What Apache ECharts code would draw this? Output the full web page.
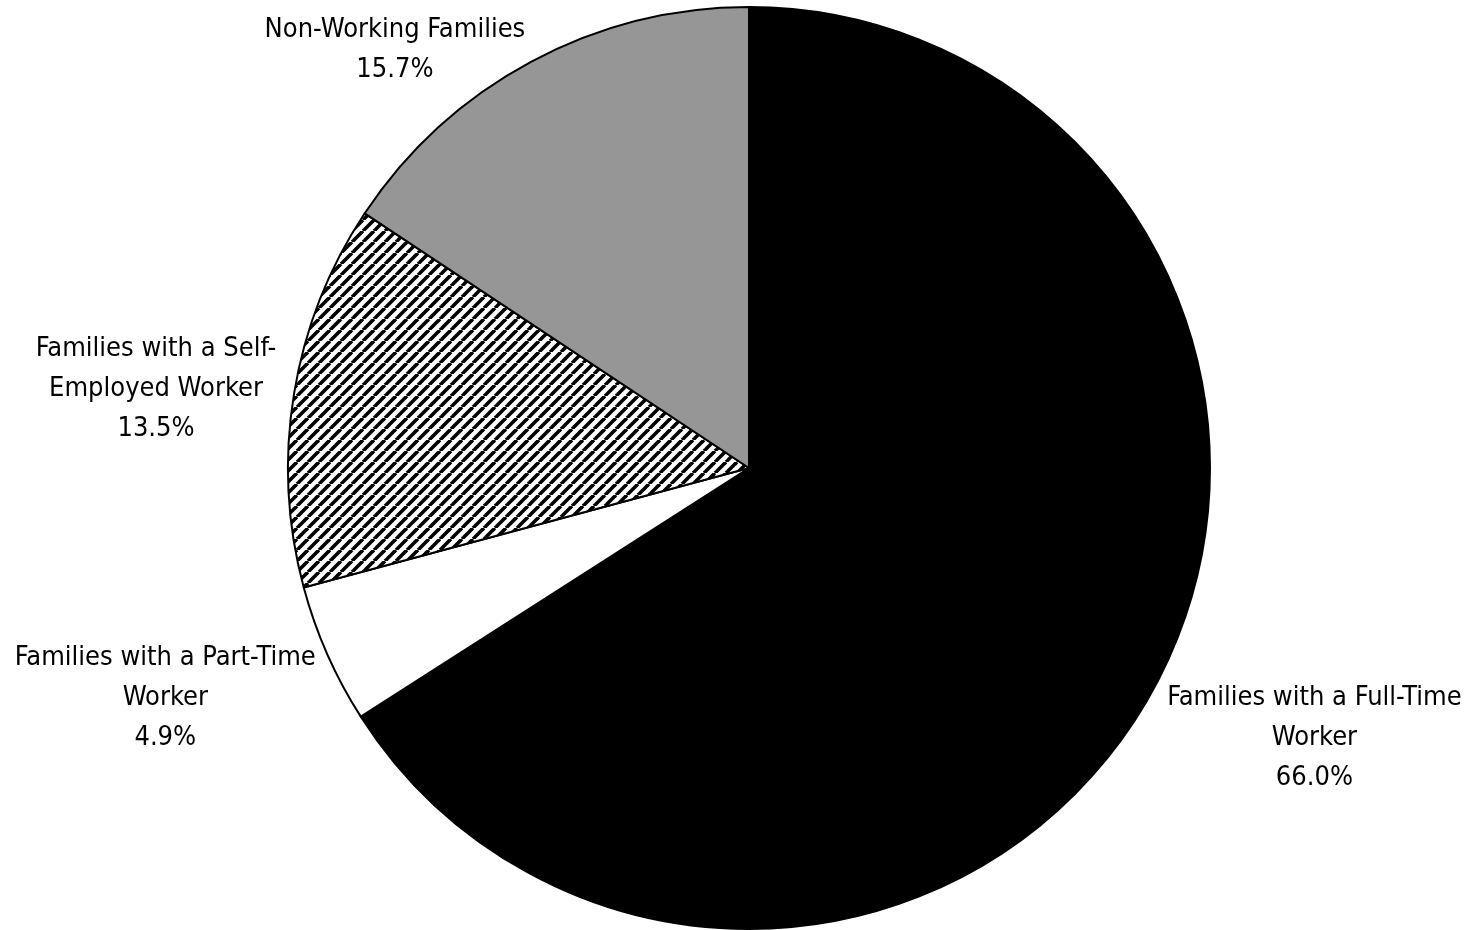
<!DOCTYPE html>
<html>
<head>
<meta charset="utf-8">
<style>
  html, body { margin: 0; padding: 0; background: #fff; }
  #chart { width: 1471px; height: 930px; }
</style>
<script src="https://cdn.jsdelivr.net/npm/echarts@6/dist/echarts.min.js"></script>
</head>
<body>
<div id="chart"></div>
<script>
// Family work status shares (percent)
const categories = [
  'Families with a Full-Time\nWorker',
  'Families with a Part-Time\nWorker',
  'Families with a Self-\nEmployed Worker',
  'Non-Working Families'
];
const shares = [66.0, 4.9, 13.5, 15.7];

// Label block placement relative to the slice's outer edge point
const labelShiftX = [156, -157, -133, -131];
const labelShiftY = [49, 44, -5, -12];

// Diagonal hatch tile for the self-employed slice
function hatchTile() {
  const s = 11;
  const c = document.createElement('canvas');
  c.width = s; c.height = s;
  const g = c.getContext('2d');
  g.fillStyle = '#fff';
  g.fillRect(0, 0, s, s);
  g.strokeStyle = '#000';
  g.lineWidth = 3.6;
  for (let k = -1; k <= 1; k++) {
    g.beginPath();
    g.moveTo(k * s, s);
    g.lineTo(k * s + s, 0);
    g.stroke();
  }
  return c;
}

const fills = [
  '#000000',
  '#ffffff',
  { image: hatchTile(), repeat: 'repeat' },
  '#969696'
];

const chart = echarts.init(document.getElementById('chart'), null, { renderer: 'canvas' });

chart.setOption({
  backgroundColor: '#ffffff',
  animation: false,
  series: [{
    type: 'pie',
    center: [749, 468],
    radius: 461,
    startAngle: 90,
    clockwise: true,
    avoidLabelOverlap: false,
    itemStyle: { borderColor: '#000', borderWidth: 2 },
    label: {
      show: true,
      position: 'outside',
      color: '#000',
      fontFamily: '"Liberation Sans Narrow", "Arial Narrow", "DejaVu Sans Condensed", sans-serif',
      fontSize: 27,
      lineHeight: 40,
      formatter: p => p.name + '\n' + p.value.toFixed(1) + '%'
    },
    labelLine: { show: false, length: 0, length2: 0 },
    labelLayout: function (p) {
      const r = p.labelRect;
      const edgeX = p.align === 'right' ? r.x + r.width : r.x;
      const edgeY = r.y + r.height / 2;
      return {
        x: edgeX + labelShiftX[p.dataIndex],
        y: edgeY + labelShiftY[p.dataIndex],
        align: 'center',
        verticalAlign: 'middle'
      };
    },
    emphasis: { disabled: true },
    data: categories.map((name, i) => ({
      name: name,
      value: shares[i],
      itemStyle: { color: fills[i] }
    }))
  }]
});
</script>
</body>
</html>
